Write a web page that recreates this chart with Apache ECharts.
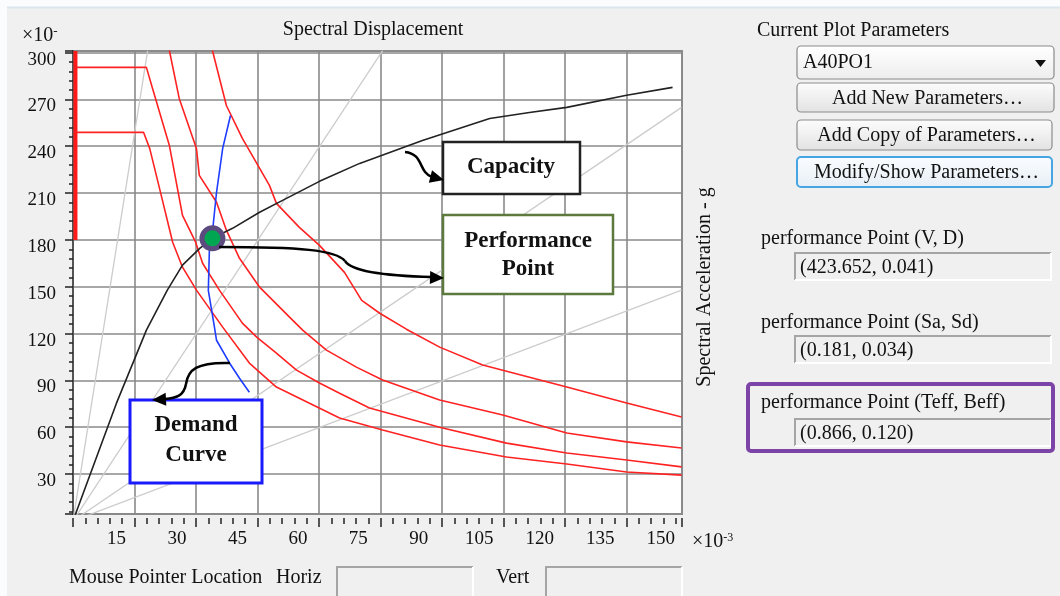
<!DOCTYPE html>
<html>
<head>
<meta charset="utf-8">
<script src="https://cdn.jsdelivr.net/npm/echarts@6/dist/echarts.min.js"></script>
<style>
    html, body { margin: 0; padding: 0; background: #fff; }
    #main { width: 1060px; height: 596px; }
</style>
</head>
<body>
<div id="main"></div>
<script>
// spectral displacement (x, 1e-3) vs spectral acceleration (y, 1e-3 g)
var capacityCurve = [[0, 0], [10.6, 75.4], [17.9, 122.2], [23.0, 147.8], [26.7, 163.8], [30.9, 174.6],
    [34.0, 181.0], [38.9, 187.4], [45.5, 197.7], [51.1, 205.3], [60.1, 217.5], [69.9, 229.0],
    [85.2, 243.7], [101.6, 257.8], [111.3, 261.6], [120.4, 264.9], [135.0, 272.6], [146.2, 277.7]];

var demandCurve = [[38.4, 259.7], [36.5, 238.6], [35.0, 210.5], [34.0, 184.9], [33.3, 177.8],
    [33.0, 147.7], [33.8, 135.0], [34.5, 124.0], [35.0, 115.7], [38.2, 101.0], [40.6, 91.4], [43.0, 82.4]];

var spectrumRise = [[0.6, 180], [0.6, 301]];

var spectrumQ = [[0.8, 248.9], [17.2, 248.9], [18.7, 238.6], [21.1, 213.0], [24.3, 178.5], [26.7, 162.5],
    [30.1, 147.8], [36.5, 124.1], [43.0, 101.1], [49.6, 85.7], [65.0, 65.9], [75.5, 58.2], [89.4, 48.6],
    [105.7, 40.9], [120.4, 36.4], [135.0, 31.3], [148.4, 29.3]];

var spectrumP = [[0.8, 290.5], [17.9, 290.5], [19.4, 277.0], [23.5, 240.5], [26.7, 195.7], [29.9, 178.5],
    [31.6, 165.0], [35.7, 147.8], [41.3, 126.7], [44.8, 117.7], [49.6, 107.5], [54.5, 96.6], [60.1, 88.3],
    [65.0, 81.8], [72.3, 72.3], [89.4, 60.0], [105.7, 49.8], [120.4, 43.5], [135.0, 39.0], [148.4, 34.6]];

var spectrumR = [[23.5, 301.3], [25.9, 270.6], [30.1, 238.6], [30.8, 221.3], [35.0, 204.1], [37.4, 186.2],
    [40.6, 168.2], [45.5, 149.7], [52.8, 130.5], [56.0, 122.2], [61.8, 109.4], [69.1, 98.5], [75.5, 90.2],
    [89.4, 77.4], [104.8, 67.8], [120.4, 56.3], [135.0, 50.6], [148.4, 46.7]];

var spectrumS = [[34.0, 301.3], [37.4, 266.1], [41.3, 245.0], [47.9, 214.9], [49.6, 203.4], [55.2, 188.0],
    [60.1, 176.5], [66.2, 159.2], [70.4, 141.3], [74.8, 133.0], [81.3, 122.8], [89.4, 111.3], [99.9, 99.8],
    [120.4, 85.7], [135.0, 75.5], [148.4, 66.5]];

// radial period lines, all start at the origin
var periodEnds = [[18.2, 301.3], [75.5, 301.3], [148.4, 264.9], [148.4, 147.8]];

var perfPoint = [34, 181];

var paramName = 'A40PO1';
var buttonLabels = ['Add New Parameters\u2026', 'Add Copy of Parameters\u2026', 'Modify/Show Parameters\u2026'];
var resultLabels = ['performance Point (V, D)', 'performance Point (Sa, Sd)', 'performance Point (Teff, Beff)'];
var resultValues = ['(423.652, 0.041)', '(0.181, 0.034)', '(0.866, 0.120)'];

var FONT = '"Liberation Serif", "DejaVu Serif", serif';

function $each(arr, fn) {
    for (var i = 0; i < arr.length; i++) { fn(arr[i], i); }
}

function txt(x, y, s, opt) {
    var style = {text: s, fill: '#111', fontSize: 20, fontFamily: FONT, align: 'left', verticalAlign: 'middle'};
    for (var k in opt) { style[k] = opt[k]; }
    return {type: 'text', x: x, y: y, style: style, silent: true, z: 100};
}

function box(x, y, w, h, stroke, lw) {
    return {type: 'rect', shape: {x: x, y: y, width: w, height: h},
        style: {fill: '#fff', stroke: stroke, lineWidth: lw}, z: 100};
}

function button(x, y, w, h, label, focus) {
    return [{
        type: 'rect', shape: {x: x, y: y, width: w, height: h, r: 4},
        style: {
            fill: new echarts.graphic.LinearGradient(0, 0, 0, 1, [
                {offset: 0, color: focus ? '#fbfdff' : '#fdfdfd'},
                {offset: 1, color: focus ? '#e6eef5' : '#e2e2e2'}]),
            stroke: focus ? '#45a6e3' : '#8c8c8c', lineWidth: focus ? 2 : 1.2
        }, z: 100
    }, txt(x + w / 2 + 2, y + h / 2 + 1, label, {align: 'center'})];
}

function field(x, y, w, h, s) {
    return [
        {type: 'rect', shape: {x: x, y: y, width: w, height: h}, style: {fill: '#f0f0f0'}, z: 100},
        {type: 'polyline', shape: {points: [[x, y + h], [x, y], [x + w, y]]},
            style: {stroke: '#a5a5a5', lineWidth: 2, fill: null}, z: 101},
        {type: 'polyline', shape: {points: [[x + w, y], [x + w, y + h], [x, y + h]]},
            style: {stroke: '#ffffff', lineWidth: 2, fill: null}, z: 101},
        txt(x + 5, y + h / 2 + 1, s)
    ];
}

function head(tx, ty, ang) {
    var L = 14, W = 6.5;
    var bx = tx - L * Math.cos(ang), by = ty - L * Math.sin(ang);
    return {type: 'polygon', z: 102, style: {fill: '#000'},
        shape: {points: [[tx, ty], [bx - W * Math.sin(ang), by + W * Math.cos(ang)],
            [bx + W * Math.sin(ang), by - W * Math.cos(ang)]]}};
}

function curve(x1, y1, c1x, c1y, c2x, c2y, x2, y2) {
    return {type: 'bezierCurve', z: 102,
        shape: {x1: x1, y1: y1, cpx1: c1x, cpy1: c1y, cpx2: c2x, cpy2: c2y, x2: x2, y2: y2},
        style: {stroke: '#000', lineWidth: 2.5, fill: null}};
}

function lineSeries(data, color, width) {
    return {type: 'line', data: data, showSymbol: false, symbol: 'none', silent: true,
        lineStyle: {color: color, width: width}, z: 3, animation: false};
}

var myChart = echarts.init(document.getElementById('main'));

var series = [];
$each(periodEnds, function (p) {
    series.push(lineSeries([[0, 0], p], '#cccccc', 1.3));
});
series.push(lineSeries(spectrumRise, '#ff1a1a', 4));
$each([spectrumQ, spectrumP, spectrumR, spectrumS], function (d) {
    series.push(lineSeries(d, '#ff2222', 1.6));
});
series.push(lineSeries(capacityCurve, '#222222', 1.6));
series.push(lineSeries(demandCurve, '#1f3dff', 1.6));
series.push({
    type: 'scatter', data: [perfPoint], symbol: 'circle', symbolSize: 21, silent: true, z: 6,
    itemStyle: {color: '#00a651', borderColor: '#5b4b7f', borderWidth: 5, opacity: 1},
    animation: false
});

var graphics = [
    {type: 'rect', shape: {x: 0, y: 0, width: 1060, height: 8}, style: {fill: '#fafcfd'}, z: 99},
    {type: 'line', shape: {x1: 0, y1: 7.5, x2: 1060, y2: 7.5}, style: {stroke: '#dbe5ec', lineWidth: 2}, z: 99},
    {type: 'rect', shape: {x: 0, y: 0, width: 7, height: 596}, style: {fill: '#fafcfd'}, z: 99},

    txt(373, 30, 'Spectral Displacement', {align: 'center'}),
    txt(22, 36, '\u00d710{s|-}', {rich: {s: {fontSize: 13, fontFamily: FONT, fill: '#111', padding: [0, 0, 8, 0]}}}),
    txt(692, 542, '\u00d710{s|-3}', {rich: {s: {fontSize: 12, fontFamily: FONT, fill: '#111', padding: [0, 0, 9, 0]}}}),
    {type: 'text', x: 705, y: 287, rotation: Math.PI / 2, z: 100, silent: true,
        style: {text: 'Spectral Acceleration - g', fill: '#111', fontSize: 20, fontFamily: FONT,
            align: 'center', verticalAlign: 'middle'}},

    // annotations
    box(443, 142, 137, 52, '#222', 2.5),
    txt(511, 167, 'Capacity', {align: 'center', fontSize: 23, fontWeight: 'bold'}),
    box(443, 215, 170, 79, '#5d7a3e', 2.5),
    txt(528, 241, 'Performance', {align: 'center', fontSize: 23, fontWeight: 'bold'}),
    txt(528, 269, 'Point', {align: 'center', fontSize: 23, fontWeight: 'bold'}),
    box(130, 400, 132, 83, '#1a1aff', 3),
    txt(196, 425, 'Demand', {align: 'center', fontSize: 23, fontWeight: 'bold'}),
    txt(196, 455, 'Curve', {align: 'center', fontSize: 23, fontWeight: 'bold'}),

    curve(405, 152, 424, 154, 418, 172, 432, 177),
    head(444, 180, 0.25),
    curve(219, 247, 300, 247, 336, 250, 345, 261),
    curve(345, 261, 352, 272, 390, 276, 432, 277),
    head(444, 278, 0.03),
    curve(230, 363, 196, 362, 188, 370, 186, 384),
    curve(186, 384, 184, 396, 176, 398, 165, 399),
    head(152, 400, Math.PI - 0.05),

    // right panel
    txt(757, 31, 'Current Plot Parameters'),
    {type: 'rect', shape: {x: 797, y: 46, width: 257, height: 33, r: 4},
        style: {fill: new echarts.graphic.LinearGradient(0, 0, 0, 1, [
            {offset: 0, color: '#ffffff'}, {offset: 1, color: '#ededed'}]),
            stroke: '#8a8a8a', lineWidth: 1.2}, z: 100},
    txt(803, 63, paramName),
    {type: 'polygon', shape: {points: [[1035, 60], [1046, 60], [1040.5, 67]]}, style: {fill: '#111'}, z: 101},

    txt(69, 578, 'Mouse Pointer Location'),
    txt(276, 578, 'Horiz'),
    txt(496, 578, 'Vert'),
    {type: 'rect', shape: {x: 748, y: 384, width: 305, height: 67, r: 3},
        style: {fill: null, stroke: '#7d44a8', lineWidth: 4}, z: 103}
];

graphics = graphics.concat(button(797, 83, 257, 29, buttonLabels[0], false));
graphics = graphics.concat(button(797, 120, 255, 30, buttonLabels[1], false));
graphics = graphics.concat(button(797, 157, 255, 30, buttonLabels[2], true));

var labelY = [239, 323, 403];
var fieldY = [253, 336, 419];
$each(resultLabels, function (s, i) {
    graphics.push(txt(761, labelY[i], s));
    graphics = graphics.concat(field(795, fieldY[i], 256, 27, resultValues[i]));
});
graphics = graphics.concat(field(337, 567, 136, 32, ''));
graphics = graphics.concat(field(546, 567, 136, 32, ''));

function every(step) {
    return function (v) { return Math.abs(v % step) < 1e-6 ? String(Math.round(v)) : ''; };
}

var option = {
    backgroundColor: '#f0f0f0',
    animation: false,
    grid: {
        left: 73, right: 378, top: 51, bottom: 82,
        show: true, backgroundColor: '#fff', borderColor: '#8c8c8c', borderWidth: 2,
        outerBoundsMode: 'none'
    },
    xAxis: [{
        type: 'value', min: 0, max: 148.5, interval: 15, offset: 4,
        axisLine: {show: false, onZero: false},
        axisTick: {show: true, length: 9, lineStyle: {color: '#222', width: 1.5}},
        minorTick: {show: true, splitNumber: 5, length: 6, lineStyle: {color: '#222', width: 1.5}},
        splitLine: {show: true, lineStyle: {color: '#8a8a8a', width: 1.6}},
        axisLabel: {show: false}
    }, {
        // tick labels sit a little left of the grid lines, as in the source program
        type: 'value', min: 4.2, max: 155.3, minInterval: 15, maxInterval: 15, position: 'bottom',
        axisLine: {show: false, onZero: false},
        axisTick: {show: false},
        splitLine: {show: false},
        axisLabel: {
            margin: 16, color: '#111', fontSize: 19, fontFamily: FONT,
            showMinLabel: false, showMaxLabel: false, formatter: every(15)
        }
    }],
    yAxis: [{
        type: 'value', min: 4.4, max: 301, minInterval: 30, maxInterval: 30,
        axisLine: {show: true, onZero: false, lineStyle: {color: '#555', width: 2}},
        axisTick: {show: true, length: 8, lineStyle: {color: '#222', width: 1.5}},
        minorTick: {show: true, splitNumber: 5, length: 4, lineStyle: {color: '#222', width: 1.5}},
        splitLine: {show: true, lineStyle: {color: '#8a8a8a', width: 1.6}},
        axisLabel: {show: false}
    }, {
        // tick labels sit a little below the grid lines
        type: 'value', min: 8.9, max: 305.5, minInterval: 30, maxInterval: 30, position: 'left',
        axisLine: {show: false, onZero: false},
        axisTick: {show: false},
        splitLine: {show: false},
        axisLabel: {
            margin: 17, color: '#111', fontSize: 19, fontFamily: FONT,
            showMinLabel: false, showMaxLabel: false, formatter: every(30)
        }
    }],
    series: series,
    graphic: {elements: graphics}
};
myChart.setOption(option);
</script>
</body>
</html>
